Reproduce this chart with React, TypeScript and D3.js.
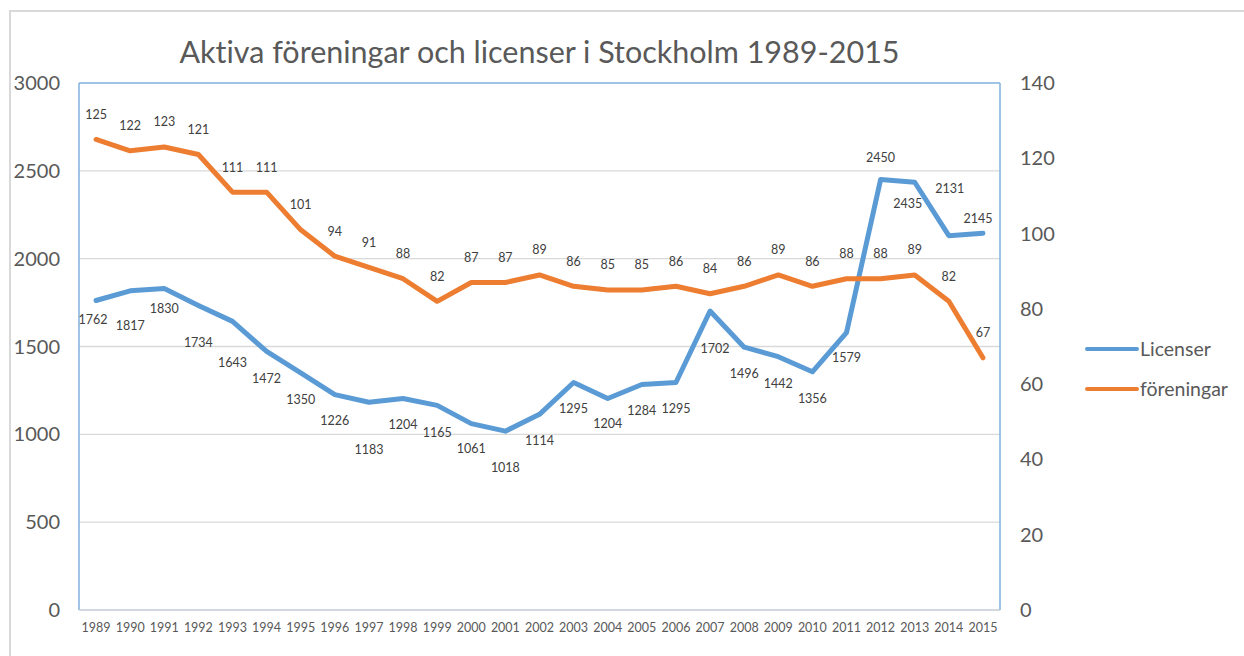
import * as d3 from "d3";

const years = [
  "1989", "1990", "1991", "1992", "1993", "1994", "1995", "1996", "1997",
  "1998", "1999", "2000", "2001", "2002", "2003", "2004", "2005", "2006",
  "2007", "2008", "2009", "2010", "2011", "2012", "2013", "2014", "2015",
];
const licenser = [
  1762, 1817, 1830, 1734, 1643, 1472, 1350, 1226, 1183, 1204, 1165, 1061, 1018,
  1114, 1295, 1204, 1284, 1295, 1702, 1496, 1442, 1356, 1579, 2450, 2435, 2131, 2145,
];
const foreningar = [
  125, 122, 123, 121, 111, 111, 101, 94, 91, 88, 82, 87, 87, 89, 86, 85, 85, 86,
  84, 86, 89, 86, 88, 88, 89, 82, 67,
];
const leftTicks = [0, 500, 1000, 1500, 2000, 2500, 3000];
const rightTicks = [0, 20, 40, 60, 80, 100, 120, 140];

// hand-placed label offsets (Excel moved some of them to avoid overlaps)
const licLabelDy = [19, 35, 20, 37, 41, 27, 27, 26, 47, 26, 27, 25, 36, 26, 26, 25, 26, 26, 38, 26, 27, 27, 25, -22, 21, -47, -15];
const licLabelDx = [-3, 0, 0, 0, 0, 0, 0, 0, 0, 0, 0, 0, 0, 0, 0, 0, 0, 0, 5, 0, 0, 0, 0, 0, -7, 1, -5];

const BLUE = "#5B9BD5";
const ORANGE = "#ED7D31";
const TXT = "#595959";
const FONT = "Lato, 'Open Sans', sans-serif";

export default function App() {
  const width = 1244;
  const height = 656;
  const plot = { left: 79, right: 1000, top: 83, bottom: 610 };

  const x = d3.scaleBand().domain(years).range([plot.left, plot.right]);
  const cx = (yr: string) => (x(yr) as number) + x.bandwidth() / 2;
  const yL = d3.scaleLinear().domain([0, 3000]).range([plot.bottom, plot.top]);
  const yR = d3.scaleLinear().domain([0, 140]).range([plot.bottom, plot.top]);

  const licLine = d3.line<number>().x((_, i) => cx(years[i])).y((d) => yL(d));
  const forLine = d3.line<number>().x((_, i) => cx(years[i])).y((d) => yR(d));

  return (
    <svg width={width} height={height} style={{ position: "absolute", left: 0, top: 0, background: "#fff", fontVariantLigatures: "none" }} fontFamily={FONT}>
      <rect x={10} y={11} width={1260} height={700} fill="#fff" stroke="#d9d9d9" strokeWidth={2} />

      <text x={(plot.left + plot.right) / 2} y={63} textAnchor="middle" fontSize={30.5} fill={TXT}>
        Aktiva föreningar och licenser i Stockholm 1989-2015
      </text>

      {leftTicks.map((t) => (
        <g key={"l" + t}>
          {t > 0 && t < 3000 && (
            <line x1={plot.left} x2={plot.right} y1={yL(t)} y2={yL(t)} stroke="#d9d9d9" strokeWidth={1.3} />
          )}
          <text x={60} y={yL(t)} dy="0.35em" textAnchor="end" fontSize={20} fill={TXT}>{t}</text>
        </g>
      ))}
      {rightTicks.map((t) => (
        <text key={"r" + t} x={1020} y={yR(t)} dy="0.35em" textAnchor="start" fontSize={20} fill={TXT}>{t}</text>
      ))}

      <line x1={plot.left} x2={plot.right} y1={plot.top} y2={plot.top} stroke="#7fb0de" strokeWidth={1.5} />
      <line x1={plot.left} x2={plot.left} y1={plot.top} y2={plot.bottom} stroke="#7fb0de" strokeWidth={1.5} />
      <line x1={plot.right} x2={plot.right} y1={plot.top} y2={plot.bottom} stroke="#7fb0de" strokeWidth={1.5} />
      <line x1={plot.left} x2={plot.right} y1={plot.bottom} y2={plot.bottom} stroke="#c3cbd6" strokeWidth={1.5} />

      {years.map((yr) => (
        <text key={yr} x={cx(yr)} y={628} dy="0.35em" textAnchor="middle" fontSize={12.5} fill={TXT}>{yr}</text>
      ))}

      <path d={licLine(licenser) ?? ""} fill="none" stroke={BLUE} strokeWidth={5} strokeLinejoin="round" strokeLinecap="round" />
      <path d={forLine(foreningar) ?? ""} fill="none" stroke={ORANGE} strokeWidth={5} strokeLinejoin="round" strokeLinecap="round" />

      {licenser.map((v, i) => (
        <text key={"lv" + i} x={cx(years[i]) + licLabelDx[i]} y={yL(v) + licLabelDy[i]} dy="0.35em" textAnchor="middle" fontSize={12.5} fill="#404040">{v}</text>
      ))}
      {foreningar.map((v, i) => (
        <text key={"fv" + i} x={cx(years[i])} y={yR(v) - 25} dy="0.35em" textAnchor="middle" fontSize={12.5} fill="#404040">{v}</text>
      ))}

      <g>
        <line x1={1087} x2={1137} y1={349} y2={349} stroke={BLUE} strokeWidth={4} strokeLinecap="round" />
        <text x={1140} y={349} dy="0.35em" fontSize={19.5} fill={TXT}>Licenser</text>
        <line x1={1087} x2={1137} y1={389} y2={389} stroke={ORANGE} strokeWidth={4} strokeLinecap="round" />
        <text x={1140} y={389} dy="0.35em" fontSize={19.5} fill={TXT}>föreningar</text>
      </g>
    </svg>
  );
}
